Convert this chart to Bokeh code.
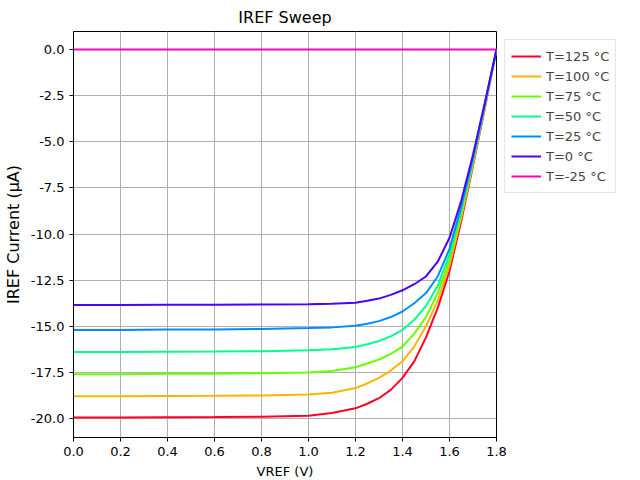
from bokeh.plotting import figure
from bokeh.models import Legend, FixedTicker, CustomJSTickFormatter
from bokeh.embed import file_html
from bokeh.resources import INLINE

vref = [0.0, 0.2, 0.4, 0.6, 0.8, 1.0, 1.1, 1.2, 1.25, 1.3, 1.35, 1.4, 1.45, 1.5, 1.55, 1.6, 1.65, 1.7, 1.75, 1.8]
i_125 = [-19.95, -19.95, -19.93, -19.92, -19.9, -19.85, -19.7, -19.45, -19.2, -18.9, -18.45, -17.8, -16.9, -15.6, -14.0, -12.0, -9.3, -6.3, -3.2, 0.0]
i_100 = [-18.8, -18.8, -18.78, -18.77, -18.75, -18.7, -18.6, -18.35, -18.1, -17.8, -17.4, -16.9, -16.1, -15.0, -13.6, -11.7, -9.1, -6.2, -3.1, 0.0]
i_75 = [-17.6, -17.6, -17.58, -17.57, -17.55, -17.5, -17.42, -17.22, -17.02, -16.8, -16.5, -16.1, -15.4, -14.5, -13.2, -11.4, -8.9, -6.1, -3.1, 0.0]
i_50 = [-16.4, -16.4, -16.38, -16.37, -16.35, -16.3, -16.25, -16.12, -15.97, -15.8, -15.55, -15.2, -14.65, -13.9, -12.8, -11.1, -8.7, -6.0, -3.0, 0.0]
i_25 = [-15.2, -15.2, -15.18, -15.17, -15.15, -15.1, -15.06, -14.97, -14.86, -14.72, -14.5, -14.2, -13.75, -13.2, -12.3, -10.8, -8.5, -5.9, -3.0, 0.0]
i_0 = [-13.85, -13.85, -13.84, -13.83, -13.82, -13.8, -13.78, -13.72, -13.62, -13.5, -13.3, -13.05, -12.72, -12.3, -11.5, -10.2, -8.2, -5.7, -2.9, 0.0]
i_m25 = [0.0] * len(vref)

series = [
    ("T=125 °C", i_125, "#ff0029"),
    ("T=100 °C", i_100, "#ffb300"),
    ("T=75 °C", i_75, "#66ff00"),
    ("T=50 °C", i_50, "#00ff8c"),
    ("T=25 °C", i_25, "#008cff"),
    ("T=0 °C", i_0, "#4c00ff"),
    ("T=-25 °C", i_m25, "#ff00bf"),
]

p = figure(frame_width=423, frame_height=406, x_range=(0, 1.8), y_range=(-21.03, 0.98),
           output_backend="svg", toolbar_location=None, title="IREF Sweep")
p.title.align = "center"
p.title.text_font_size = "16px"
p.title.text_font_style = "normal"
p.title.text_font = "DejaVu Sans"
p.title.text_color = "black"

items = []
for label, ys, color in series:
    r = p.line(vref, ys, line_color=color, line_width=2)
    items.append((label, [r]))

legend = Legend(items=items, location="top_left", label_text_font="DejaVu Sans",
                label_text_font_size="13px", border_line_color="#cccccc",
                glyph_width=30, spacing=0, padding=6, margin=8)
p.add_layout(legend, "right")

p.xaxis.ticker = FixedTicker(ticks=[0, 0.2, 0.4, 0.6, 0.8, 1.0, 1.2, 1.4, 1.6, 1.8])
p.yaxis.ticker = FixedTicker(ticks=[0, -2.5, -5, -7.5, -10, -12.5, -15, -17.5, -20])
p.xaxis.formatter = CustomJSTickFormatter(code="return tick.toFixed(1);")
p.yaxis.formatter = CustomJSTickFormatter(code="return tick.toFixed(1);")
p.xaxis.axis_label = "VREF (V)"
p.yaxis.axis_label = "IREF Current (µA)"
p.xaxis.axis_label_text_font_size = "13px"
p.yaxis.axis_label_text_font_size = "16px"
for ax in (p.xaxis, p.yaxis):
    ax.axis_label_text_font_style = "normal"
    ax.axis_label_text_font = "DejaVu Sans"
    ax.axis_label_text_color = "black"
    ax.major_label_text_font = "DejaVu Sans"
    ax.major_label_text_font_size = "13px"
    ax.major_label_text_color = "black"
    ax.minor_tick_line_color = None
    ax.major_tick_in = 0
    ax.major_tick_out = 4
    ax.axis_line_color = "black"
p.grid.grid_line_color = "#b0b0b0"
p.outline_line_color = "black"
p.min_border_left = 14

open("out.html", "w").write(file_html(p, INLINE))
